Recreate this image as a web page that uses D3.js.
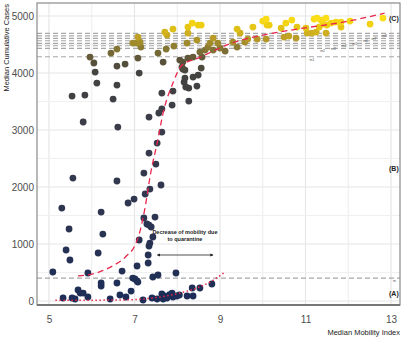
<!DOCTYPE html>
<html>
<head>
<meta charset="utf-8">
<script src="https://cdn.jsdelivr.net/npm/d3@7"></script>
<style>
  body { margin: 0; background: #fff; }
  svg { display: block; font-family: "Liberation Sans Narrow", "Arial Narrow", "Liberation Sans", sans-serif; }
</style>
</head>
<body>
<div class="chart"></div>
<script>
// mobility index vs median cumulative cases
var points = [
  [5.33,53],[5.54,53],[5.61,35],[5.68,193],[5.73,140],[5.80,140],[5.91,70],[6.43,35],[6.66,105],[6.80,70],
  [6.92,175],[7.20,18],[7.41,53],[7.53,35],[7.64,123],[7.67,35],[7.70,90],[7.76,53],[7.82,110],[7.88,140],
  [7.90,70],[7.99,88],[8.05,105],[8.23,88],[8.35,228],[8.37,88],[8.53,228],[8.81,298],
  [5.09,509],[5.40,895],[5.49,719],[5.47,1263],[5.91,491],[6.15,842],[6.26,1175],[6.22,316],[6.22,263],
  [6.59,316],[6.71,526],[7.01,386],[7.08,333],[6.96,403],[7.06,351],[7.06,614],[7.11,1070],[7.29,1351],
  [7.39,1298],[7.43,1123],[7.36,1017],[7.34,965],[7.32,807],[7.32,667],[7.43,421],[7.55,456],[7.97,491],
  [7.22,1456],[7.48,1473],[7.34,1333],[5.30,1631],[6.22,1561],[6.85,1719],[6.99,1789],[5.56,2157],
  [6.59,2105],[7.25,1877],[7.36,1964],[7.62,2035],[7.22,2245],[7.50,2403],[7.34,2596],[7.53,2771],
  [7.64,2964],[5.80,3140],[6.61,3052],[7.34,3227],[7.57,3298],[7.64,3368],[7.88,3438],[8.27,3508],
  [5.54,3596],[5.84,3613],[6.50,3543],[7.64,3648],[7.90,3683],[6.59,3789],[6.12,3824],[8.27,3736],
  [8.20,3754],[8.46,3771],[8.16,3841],[8.18,3911],[8.37,3929],[8.49,3964],[6.08,4017],[7.11,3999],
  [8.18,4052],[8.13,4069],[8.56,4087],[8.11,4104],[6.59,4122],[6.78,4157],[6.05,4175],[7.67,4192],
  [8.13,4192],[8.06,4227],[7.08,4262],[8.25,4262],[5.96,4280],[8.37,4280],[8.58,4280],
  [6.45,4350],[7.55,4350],[8.53,4367],[9.12,4385],[8.84,4403],[8.65,4403],[6.59,4420],[7.74,4420],
  [7.15,4455],[8.72,4455],[9.40,4455],[9.00,4438],[7.92,4473],[6.96,4525],[7.06,4525],[8.23,4525],
  [8.77,4525],[8.95,4525],[7.13,4543],[9.30,4543],[9.58,4543],[8.46,4578],[9.65,4595],[9.87,4595],
  [10.08,4595],[8.84,4613],[10.78,4613],[7.08,4631],[10.50,4631],[10.61,4648],[7.76,4666],
  [8.25,4701],[9.47,4701],[11.04,4701],[11.15,4701],[11.48,4701],[7.71,4718],[11.25,4718],[7.90,4771],
  [9.40,4771],[10.43,4788],[11.01,4788],[8.25,4806],[9.77,4806],[10.80,4806],[11.32,4806],[11.83,4806],
  [8.49,4841],[8.56,4841],[10.10,4841],[10.15,4841],[11.50,4841],[8.35,4876],[10.54,4876],[11.60,4876],
  [11.41,4859],[12.51,4859],[11.71,4894],[11.83,4894],[10.00,4911],[12.04,4911],[10.68,4929],
  [11.36,4929],[10.08,4946],[11.20,4946],[11.27,4964],[11.48,4964],[12.81,4964]
];

// fitted sigmoid (B/C) and early growth (A)
var sigmoidFit = [
  [5.68,440],[6.1,490],[6.45,600],[6.8,780],[7.0,960],[7.12,1200],[7.25,1650],[7.38,2250],[7.53,2770],
  [7.67,3300],[7.9,3825],[8.1,4130],[8.5,4265],[8.8,4370],[9.25,4520],[10.0,4665],[10.8,4770],
  [11.9,4895],[12.85,5050]
];
var earlyFit = [
  [5.15,15],[6.0,15],[6.8,20],[7.2,35],[7.5,60],[7.8,95],[8.06,140],[8.46,228],[8.77,333],[9.12,510]
];

// plateau estimates (grey dashed lines) with their small tags
var plateaus = [4695, 4653, 4608, 4566, 4520, 4478, 4432, 4285, 403];
var plateauTagX = [12.85, 12.6, 12.4, 12.15, 11.9, 11.65, 11.4, 11.15, 13.08];
var plateauTags = ["m8", "m7", "m6", "m5", "m4", "m3", "m2", "m1", "m"];

var xTicks = [5, 7, 9, 11, 13];
var yTicks = [0, 1000, 2000, 3000, 4000, 5000];
var phaseLabels = ["(C)", "(B)", "(A)"];
var phaseCases = [4960, 2330, 140];

var svgWidth = 404, svgHeight = 339;
var margin = { top: 3, right: 4, bottom: 34, left: 37 };
var width = svgWidth - margin.left - margin.right;
var height = svgHeight - margin.top - margin.bottom;

var svg = d3.select(".chart").append("svg")
  .attr("width", svgWidth)
  .attr("height", svgHeight);

var g = svg.append("g")
  .attr("transform", `translate(${margin.left}, ${margin.top})`);

var x = d3.scaleLinear().domain([4.72, 13.21]).range([0, width]);
var y = d3.scaleLinear().domain([-70, 5228]).range([height, 0]);

var color = d3.scaleLinear()
  .domain([0, 1500, 3000, 4000, 4250, 4450, 4650, 4850, 5000])
  .range(["#1c2d57", "#2d3550", "#393c4a", "#444341", "#5e5639", "#8a7a33", "#c2a424", "#f0d010", "#ffe21a"])
  .clamp(true);

// grid
var minorX = d3.range(5, 14, 1);
var minorY = d3.range(0, 5001, 500);
g.selectAll(".gx").data(minorX).enter().append("line")
  .attr("x1", d => x(d)).attr("x2", d => x(d))
  .attr("y1", 0).attr("y2", height)
  .attr("stroke", d => d % 2 ? "#e6e6e6" : "#f0f0f0")
  .attr("stroke-width", 1.2);
g.selectAll(".gy").data(minorY).enter().append("line")
  .attr("x1", 0).attr("x2", width)
  .attr("y1", d => y(d)).attr("y2", d => y(d))
  .attr("stroke", d => d % 1000 ? "#f0f0f0" : "#e6e6e6")
  .attr("stroke-width", 1.2);

// plateau dashed lines
g.selectAll(".plateau").data(plateaus).enter().append("line")
  .attr("x1", 0).attr("x2", width)
  .attr("y1", d => y(d)).attr("y2", d => y(d))
  .attr("stroke", "#a8a8a8")
  .attr("stroke-width", 1.2)
  .attr("stroke-dasharray", "5,3");

g.selectAll(".ptag").data(plateaus).enter().append("text")
  .attr("x", (d, i) => x(plateauTagX[i]))
  .attr("y", (d, i) => y(d) + 4)
  .attr("text-anchor", "middle")
  .attr("font-size", "3.5px")
  .attr("fill", "#555")
  .text((d, i) => plateauTags[i]);

// points
g.selectAll("circle").data(points).enter().append("circle")
  .attr("cx", d => x(d[0]))
  .attr("cy", d => y(d[1]))
  .attr("r", 3.4)
  .attr("fill", d => color(d[1]));

// fitted curves
var line = d3.line().x(d => x(d[0])).y(d => y(d[1])).curve(d3.curveMonotoneX);
g.append("path").datum(sigmoidFit)
  .attr("d", line)
  .attr("fill", "none")
  .attr("stroke", "#e8264c")
  .attr("stroke-width", 1.3)
  .attr("stroke-dasharray", "6,4");
g.append("path").datum(earlyFit)
  .attr("d", line)
  .attr("fill", "none")
  .attr("stroke", "#e8264c")
  .attr("stroke-width", 1.5)
  .attr("stroke-dasharray", "1.5,2.5");

// panel border
g.append("rect")
  .attr("width", width).attr("height", height)
  .attr("fill", "none").attr("stroke", "#8a8a8a").attr("stroke-width", 1.2);
g.append("line")
  .attr("x1", 0).attr("x2", width).attr("y1", height).attr("y2", height)
  .attr("stroke", "#777").attr("stroke-width", 2);

// phase labels
g.selectAll(".phase").data(phaseLabels).enter().append("text")
  .attr("x", width - 11)
  .attr("y", (d, i) => y(phaseCases[i]) + 2.5)
  .attr("font-size", "7px")
  .attr("font-weight", "bold")
  .attr("fill", "#222")
  .text(d => d);

// annotation
var ann = g.append("text")
  .attr("text-anchor", "middle")
  .attr("font-size", "5.5px")
  .attr("font-weight", "bold")
  .attr("fill", "#222");
ann.append("tspan").attr("x", x(8.18)).attr("y", y(1180)).text("Decrease of mobility due");
ann.append("tspan").attr("x", x(8.18)).attr("y", y(1060)).text("to quarantine");

svg.append("defs").append("marker")
  .attr("id", "arrow")
  .attr("viewBox", "0 0 10 10")
  .attr("refX", 9).attr("refY", 5)
  .attr("markerWidth", 4).attr("markerHeight", 4)
  .attr("orient", "auto-start-reverse")
  .append("path").attr("d", "M0,0L10,5L0,10z").attr("fill", "#222");
g.append("line")
  .attr("x1", x(7.53)).attr("x2", x(8.84))
  .attr("y1", y(807)).attr("y2", y(807))
  .attr("stroke", "#222").attr("stroke-width", 0.8)
  .attr("marker-start", "url(#arrow)")
  .attr("marker-end", "url(#arrow)");

// axes
var xAxis = d3.axisBottom(x).tickValues(xTicks).tickSize(0).tickPadding(11);
var yAxis = d3.axisLeft(y).tickValues(yTicks).tickFormat(d3.format("d")).tickSize(0).tickPadding(3);

var xg = g.append("g").attr("transform", `translate(0, ${height})`).call(xAxis);
var yg = g.append("g").call(yAxis);
[xg, yg].forEach(function(a) {
  a.select(".domain").remove();
  a.selectAll("text")
    .attr("fill", "#4d4d4d")
    .style("font-family", "inherit")
    .attr("font-size", "10px");
});

svg.append("text")
  .attr("x", svgWidth - 4)
  .attr("y", svgHeight - 4)
  .attr("text-anchor", "end")
  .attr("font-size", "7.5px")
  .attr("fill", "#222")
  .text("Median Mobility Index");

svg.append("text")
  .attr("transform", "translate(9, 4) rotate(-90)")
  .attr("text-anchor", "end")
  .attr("font-size", "7.5px")
  .attr("fill", "#222")
  .text("Median Cumulative Cases");
</script>
</body>
</html>
